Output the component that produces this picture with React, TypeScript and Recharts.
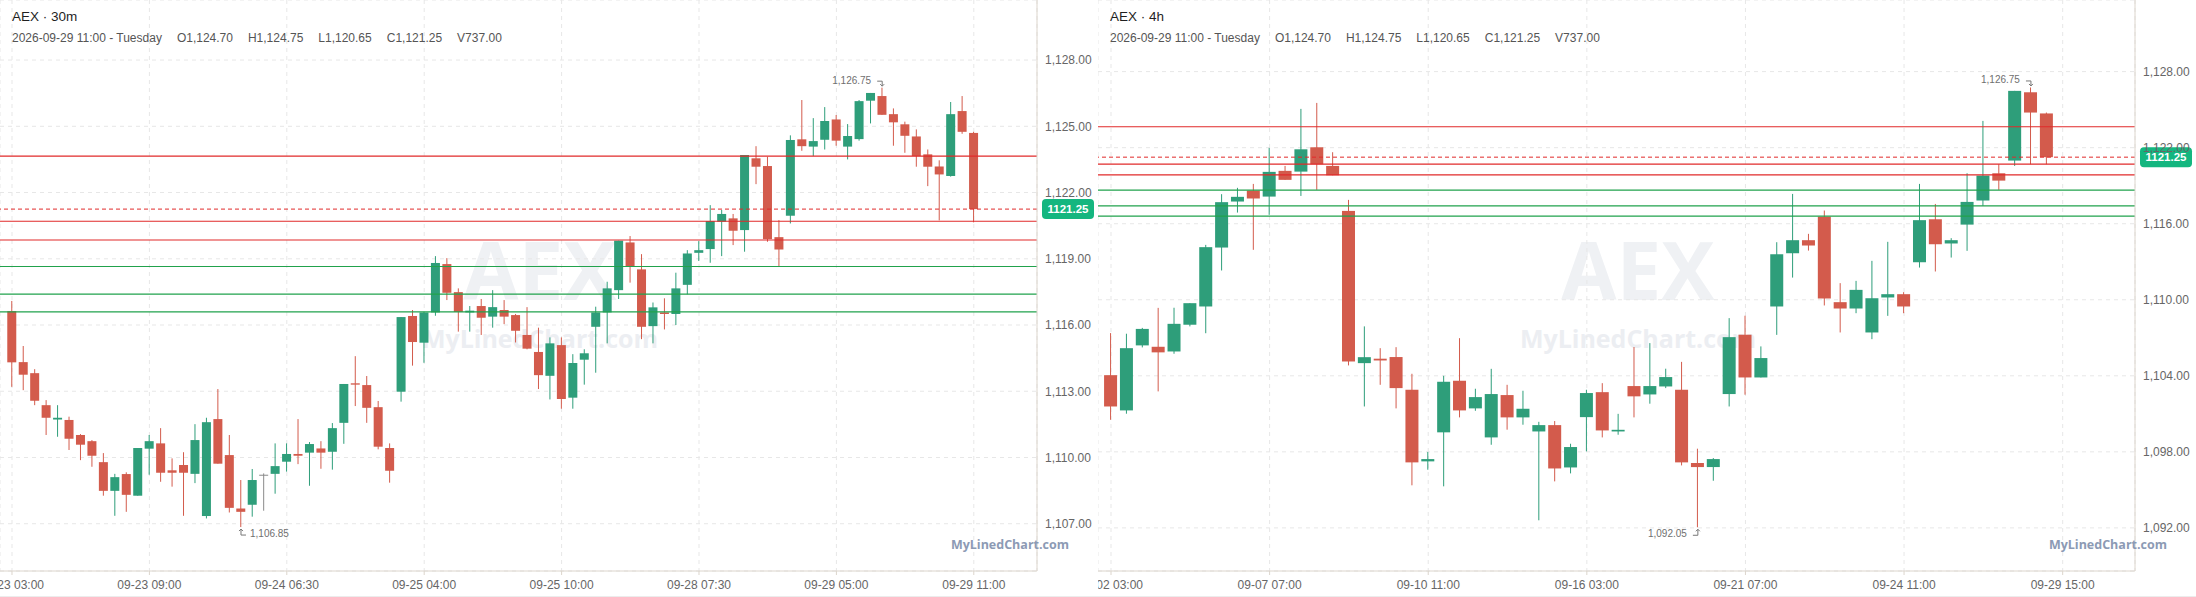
import React from "react";
import {
  ComposedChart,
  Bar,
  XAxis,
  YAxis,
  CartesianGrid,
  ReferenceLine,
  ReferenceDot,
} from "recharts";

// ---- 30m panel ----
const m30Labels = ["09-23 03:00", "09-23 09:00", "09-24 06:30", "09-25 04:00", "09-25 10:00", "09-28 07:30", "09-29 05:00", "09-29 11:00"];
const m30Open = [1116.63, 1114.32, 1113.82, 1112.37, 1111.72, 1111.7, 1111.02, 1110.74, 1109.79, 1108.49, 1109.25, 1108.27, 1110.4, 1110.64, 1109.42, 1109.66, 1109.26, 1107.35, 1111.74, 1110.11, 1107.69, 1107.86, 1109.22, 1109.26, 1109.81, 1110.16, 1110.22, 1110.41, 1110.26, 1111.57, 1113.36, 1113.28, 1112.28, 1110.43, 1112.98, 1116.41, 1115.2, 1116.57, 1118.76, 1117.49, 1116.57, 1116.86, 1116.38, 1116.68, 1116.45, 1115.55, 1114.78, 1113.7, 1115.09, 1112.71, 1114.43, 1115.92, 1116.57, 1117.58, 1119.74, 1118.52, 1115.95, 1116.57, 1116.5, 1117.82, 1119.27, 1119.44, 1120.68, 1120.83, 1120.3, 1123.55, 1123.2, 1119.98, 1120.95, 1124.41, 1124.08, 1124.39, 1125.31, 1124.08, 1124.42, 1126.16, 1126.37, 1125.55, 1125.09, 1124.54, 1123.73, 1123.18, 1122.75, 1125.69, 1124.7];
const m30High = [1117.09, 1115.05, 1114.0, 1112.6, 1112.37, 1111.85, 1111.06, 1110.79, 1110.2, 1109.26, 1109.33, 1110.43, 1111.02, 1111.33, 1109.96, 1110.24, 1111.51, 1111.8, 1113.1, 1111.02, 1108.98, 1109.48, 1109.28, 1110.64, 1110.64, 1111.74, 1110.7, 1110.74, 1111.56, 1113.33, 1114.59, 1113.69, 1112.56, 1110.64, 1116.36, 1116.68, 1116.6, 1119.12, 1119.03, 1117.66, 1116.86, 1117.18, 1117.58, 1117.13, 1116.5, 1116.81, 1115.88, 1115.44, 1115.44, 1114.68, 1114.9, 1116.83, 1117.96, 1119.82, 1120.03, 1119.21, 1117.02, 1117.21, 1118.37, 1119.39, 1119.8, 1121.43, 1121.21, 1121.03, 1123.7, 1124.1, 1123.62, 1120.75, 1124.59, 1126.19, 1125.37, 1125.87, 1125.51, 1125.1, 1126.19, 1126.51, 1126.75, 1125.81, 1125.21, 1124.86, 1123.95, 1123.46, 1126.1, 1126.37, 1124.75];
const m30Low = [1113.2, 1113.05, 1112.37, 1111.02, 1110.94, 1110.34, 1109.88, 1109.58, 1108.27, 1107.36, 1107.54, 1108.27, 1109.22, 1108.9, 1108.68, 1107.36, 1108.84, 1107.24, 1109.72, 1107.51, 1106.85, 1107.32, 1107.59, 1108.36, 1109.36, 1109.7, 1108.72, 1109.49, 1109.45, 1110.62, 1112.33, 1111.57, 1110.37, 1108.86, 1112.53, 1114.16, 1114.29, 1116.42, 1117.13, 1115.7, 1115.7, 1115.55, 1115.88, 1116.04, 1115.21, 1114.9, 1113.1, 1112.63, 1112.21, 1112.21, 1113.3, 1113.84, 1115.17, 1117.18, 1117.92, 1115.36, 1115.17, 1115.8, 1116.0, 1117.39, 1118.9, 1118.82, 1119.12, 1119.62, 1119.32, 1122.38, 1119.77, 1118.67, 1120.6, 1123.89, 1123.65, 1123.95, 1124.12, 1123.5, 1124.35, 1125.13, 1125.52, 1124.12, 1123.8, 1123.17, 1122.29, 1120.74, 1122.72, 1124.66, 1120.65];
const m30Close = [1114.31, 1113.75, 1112.57, 1111.8, 1111.8, 1110.85, 1110.58, 1110.08, 1108.49, 1109.11, 1108.31, 1110.43, 1110.74, 1109.31, 1109.31, 1109.31, 1110.79, 1111.6, 1109.72, 1107.72, 1107.54, 1108.98, 1109.22, 1109.61, 1110.16, 1110.08, 1110.61, 1110.22, 1111.33, 1113.33, 1113.3, 1112.25, 1110.49, 1109.4, 1116.36, 1115.23, 1116.57, 1118.81, 1117.46, 1116.59, 1116.65, 1116.33, 1116.81, 1116.38, 1115.74, 1114.93, 1113.73, 1115.17, 1112.65, 1114.28, 1114.72, 1116.57, 1117.66, 1119.82, 1118.67, 1115.92, 1116.8, 1116.5, 1117.66, 1119.24, 1119.39, 1120.71, 1121.03, 1120.27, 1123.7, 1123.17, 1119.89, 1119.42, 1124.38, 1124.1, 1124.33, 1125.24, 1124.35, 1124.56, 1126.14, 1126.51, 1125.52, 1125.18, 1124.57, 1123.65, 1123.17, 1122.82, 1125.55, 1124.75, 1121.25];
const m30Ticks = [1107, 1110, 1113, 1116, 1119, 1122, 1125, 1128];

// ---- 4h panel ----
const h4Labels = ["09-02 03:00", "09-07 07:00", "09-10 11:00", "09-16 03:00", "09-21 07:00", "09-24 11:00", "09-29 15:00"];
const h4Open = [1104.05, 1101.27, 1106.4, 1106.29, 1105.92, 1108.03, 1109.47, 1114.12, 1117.75, 1118.62, 1118.14, 1120.17, 1120.11, 1122.03, 1120.56, 1117.01, 1105.0, 1105.35, 1105.48, 1102.9, 1097.25, 1099.54, 1103.61, 1101.43, 1099.14, 1102.48, 1100.72, 1099.61, 1100.11, 1096.77, 1100.74, 1102.71, 1099.61, 1103.19, 1102.53, 1103.16, 1102.9, 1097.12, 1096.8, 1102.56, 1107.24, 1103.87, 1109.47, 1113.67, 1114.7, 1116.56, 1109.81, 1109.31, 1107.42, 1110.18, 1110.44, 1112.96, 1116.35, 1114.44, 1115.93, 1117.83, 1119.98, 1120.98, 1126.37, 1124.7];
const h4High = [1107.37, 1107.32, 1107.78, 1109.36, 1109.37, 1109.73, 1114.33, 1118.33, 1118.83, 1119.14, 1121.98, 1120.56, 1125.06, 1125.53, 1121.64, 1117.88, 1107.9, 1106.18, 1106.26, 1104.16, 1097.99, 1104.0, 1106.97, 1102.98, 1104.55, 1103.29, 1102.82, 1100.37, 1100.43, 1098.64, 1102.9, 1103.42, 1101.0, 1106.27, 1106.58, 1104.56, 1105.1, 1098.25, 1097.51, 1108.55, 1108.74, 1106.32, 1114.54, 1118.35, 1115.2, 1117.04, 1111.31, 1111.49, 1113.07, 1114.57, 1110.6, 1119.14, 1117.56, 1114.86, 1119.98, 1124.11, 1120.69, 1126.48, 1126.75, 1124.77];
const h4Low = [1100.53, 1101.01, 1106.24, 1102.77, 1105.74, 1107.9, 1107.36, 1112.31, 1116.88, 1113.94, 1116.7, 1119.46, 1118.19, 1118.67, 1119.82, 1104.82, 1101.58, 1103.29, 1101.43, 1095.36, 1096.59, 1095.28, 1100.72, 1101.24, 1098.56, 1099.75, 1100.14, 1092.6, 1095.67, 1096.3, 1098.04, 1099.14, 1099.35, 1100.72, 1101.8, 1103.03, 1096.93, 1092.05, 1095.72, 1101.58, 1102.51, 1103.87, 1107.23, 1111.75, 1113.88, 1109.55, 1107.42, 1108.94, 1106.89, 1108.73, 1108.94, 1112.54, 1112.23, 1113.33, 1113.86, 1117.41, 1118.67, 1120.56, 1120.69, 1120.69];
const h4Close = [1101.58, 1106.18, 1107.7, 1105.85, 1108.1, 1109.73, 1114.15, 1117.7, 1118.12, 1117.99, 1120.09, 1119.46, 1121.87, 1120.69, 1119.82, 1105.13, 1105.47, 1105.21, 1103.03, 1097.17, 1097.43, 1103.53, 1101.27, 1102.32, 1102.56, 1100.72, 1101.4, 1100.11, 1096.69, 1098.38, 1102.64, 1099.69, 1099.74, 1102.38, 1103.19, 1103.9, 1097.17, 1096.8, 1097.43, 1107.05, 1103.87, 1105.4, 1113.59, 1114.7, 1114.28, 1110.1, 1109.31, 1110.78, 1110.12, 1110.44, 1109.47, 1116.28, 1114.38, 1114.7, 1117.72, 1119.8, 1119.4, 1126.48, 1124.77, 1121.25];
const h4Ticks = [1092, 1098, 1104, 1110, 1116, 1122, 1128];

// levels drawn on both charts
const resistance = [1123.65, 1120.7, 1119.85];
const support = [1118.65, 1117.4, 1116.6];
const lastPrice = 1121.25;
const infoLine = ["2026-09-29 11:00 - Tuesday", "O1,124.70", "H1,124.75", "L1,120.65", "C1,121.25", "V737.00"];

const UP = "#2e9e7a";
const DOWN = "#d35b4c";
const FLAT = "#8a8a8a";
const FONT = "'Liberation Sans', Arial, Helvetica, sans-serif";
const PANEL_W = 1098;
const H = 597;

const fmt = (v: number) =>
  v.toLocaleString("en-US", { minimumFractionDigits: 2, maximumFractionDigits: 2 });

const Candle = (props: any) => {
  const { x, y, width, height, payload } = props;
  const { o, h, l, c } = payload;
  const top = Math.min(y, y + height);
  const span = Math.abs(height);
  const k = h > l ? span / (h - l) : 0;
  const py = (v: number) => top + (h - v) * k;
  const color = c > o ? UP : c < o ? DOWN : FLAT;
  const cx = x + width / 2;
  const bTop = py(Math.max(o, c));
  const bH = Math.max(1, py(Math.min(o, c)) - bTop);
  return (
    <g>
      <line x1={cx} x2={cx} y1={top} y2={top + span} stroke={color} strokeWidth={1} />
      <rect x={x} y={bTop} width={width} height={bH} fill={color} />
    </g>
  );
};

const PriceTag = (props: any) => {
  const vb = props.viewBox || {};
  const x = (vb.x ?? 0) + (vb.width ?? 0) + 5;
  const y = vb.y ?? 0;
  return (
    <g>
      <rect x={x} y={y - 10} width={52} height={20} rx={4} fill="#14b67f" />
      <text x={x + 26} y={y + 4} textAnchor="middle" fill="#fff" fontSize={11.5} fontWeight={700} fontFamily={FONT}>
        {String(lastPrice)}
      </text>
    </g>
  );
};

const HighMark = (props: any) => {
  const { cx, cy, value } = props;
  return (
    <g>
      <text x={cx - 11} y={cy - 4} textAnchor="end" fontSize={10} fill="#6f6f6f" fontFamily={FONT}>
        {fmt(value)}
      </text>
      <path d={`M${cx - 5},${cy - 6.5} H${cx} V${cy - 1.5} M${cx - 2},${cy - 3.5} L${cx},${cy - 1.5} L${cx + 2},${cy - 3.5}`} stroke="#777" fill="none" strokeWidth={1} />
    </g>
  );
};

const LowMark = (props: any) => {
  const { cx, cy, value, side } = props;
  const right = side === "right";
  const gx = right ? cx + 5 : cx - 5;
  return (
    <g>
      <path d={`M${cx},${cy + 2} V${cy + 8} H${gx} M${cx - 2},${cy + 4} L${cx},${cy + 2} L${cx + 2},${cy + 4}`} stroke="#777" fill="none" strokeWidth={1} />
      <text x={right ? cx + 9 : cx - 11} y={cy + 9.5} textAnchor={right ? "start" : "end"} fontSize={10} fill="#6f6f6f" fontFamily={FONT}>
        {fmt(value)}
      </text>
    </g>
  );
};

type PanelProps = {
  left: number;
  title: string;
  labels: string[];
  every: number;
  open: number[];
  high: number[];
  low: number[];
  close: number[];
  yTicks: number[];
  xDomain: [number, number];
  yDomain: [number, number];
  barSize: number;
  lowSide: string;
};

function Panel(p: PanelProps) {
  const rows = p.open.map((o, i) => ({
    i,
    o,
    h: p.high[i],
    l: p.low[i],
    c: p.close[i],
    range: [p.low[i], p.high[i]],
  }));
  const hiIdx = p.high.indexOf(Math.max(...p.high));
  const loIdx = p.low.indexOf(Math.min(...p.low));
  const xTicks = p.labels.map((_, k) => k * p.every);
  const axisColor = "#dcd5cc";
  const tickStyle = { fill: "#666", fontSize: 12, fontFamily: FONT };

  return (
    <div style={{ position: "absolute", left: p.left, top: 0, width: PANEL_W, height: H }}>
      <svg width={PANEL_W} height={H} style={{ position: "absolute", left: 0, top: 0 }}>
        <text x={540} y={300} textAnchor="middle" fontSize={80} fontWeight={700} fill="#eff1f4" fontFamily="'Open Sans', sans-serif">
          AEX
        </text>
        <text x={540} y={348} textAnchor="middle" fontSize={25} fontWeight={700} fill="#eceef2" fontFamily="'Open Sans', sans-serif">
          MyLinedChart.com
        </text>
      </svg>
      <div style={{ position: "absolute", left: 0, top: 0 }}>
        <ComposedChart width={PANEL_W} height={H} data={rows} margin={{ top: 0, right: 0, bottom: 0, left: 0 }}>
          <CartesianGrid stroke="#e7e7e7" strokeDasharray="4 4" />
          <XAxis
            dataKey="i"
            type="number"
            domain={p.xDomain}
            allowDataOverflow
            ticks={xTicks}
            interval={0}
            tickFormatter={(v: number) => p.labels[Math.round(v / p.every)] ?? ""}
            height={26}
            stroke={axisColor}
            tickSize={4}
            tickMargin={5}
            tick={tickStyle}
          />
          <YAxis
            orientation="right"
            type="number"
            domain={p.yDomain}
            allowDataOverflow
            ticks={p.yTicks}
            interval={0}
            tickFormatter={fmt}
            width={61}
            stroke={axisColor}
            tickLine={false}
            tickSize={6}
            tickMargin={2}
            tick={tickStyle}
          />
          <Bar dataKey="range" barSize={p.barSize} shape={<Candle />} isAnimationActive={false} />
          {resistance.map((v) => (
            <ReferenceLine key={"r" + v} y={v} stroke="#e12a2a" strokeWidth={1.2} />
          ))}
          {support.map((v) => (
            <ReferenceLine key={"s" + v} y={v} stroke="#21a24c" strokeWidth={1.2} />
          ))}
          <ReferenceLine y={lastPrice} stroke="#e12a2a" strokeDasharray="4 3" strokeWidth={1} label={<PriceTag />} />
          <ReferenceDot x={hiIdx} y={p.high[hiIdx]} r={0} shape={(s: any) => <HighMark {...s} value={p.high[hiIdx]} />} />
          <ReferenceDot x={loIdx} y={p.low[loIdx]} r={0} shape={(s: any) => <LowMark {...s} value={p.low[loIdx]} side={p.lowSide} />} />
        </ComposedChart>
      </div>
      <svg width={PANEL_W} height={H} style={{ position: "absolute", left: 0, top: 0, pointerEvents: "none" }}>
        <text x={12} y={21} fontSize={13.5} fill="#1f1f1f" fontFamily={FONT}>
          {p.title}
        </text>
        <text x={12} y={41.5} fontSize={12} fill="#555" fontFamily={FONT}>
          {infoLine.map((t, k) => (
            <tspan key={t} dx={k === 0 ? 0 : 15}>
              {t}
            </tspan>
          ))}
        </text>
        <text x={1069} y={549} textAnchor="end" fontSize={12.5} fontWeight={700} fill="#8c9ab4" fontFamily="'Open Sans', sans-serif">
          MyLinedChart.com
        </text>
        <line x1={0} x2={PANEL_W} y1={596.5} y2={596.5} stroke="#ececec" />
      </svg>
    </div>
  );
}

export default function App() {
  return (
    <div style={{ position: "absolute", left: 0, top: 0, width: 2196, height: H, background: "#fff", overflow: "hidden" }}>
      <Panel
        left={0}
        title="AEX · 30m"
        labels={m30Labels}
        every={12}
        open={m30Open}
        high={m30High}
        low={m30Low}
        close={m30Close}
        yTicks={m30Ticks}
        xDomain={[-1.048, 89.52]}
        yDomain={[1104.86, 1130.72]}
        barSize={9}
        lowSide="right"
      />
      <Panel
        left={PANEL_W}
        title="AEX · 4h"
        labels={h4Labels}
        every={10}
        open={h4Open}
        high={h4High}
        low={h4Low}
        close={h4Close}
        yTicks={h4Ticks}
        xDomain={[-0.82, 64.56]}
        yDomain={[1088.6, 1133.65]}
        barSize={13}
        lowSide="left"
      />
    </div>
  );
}
